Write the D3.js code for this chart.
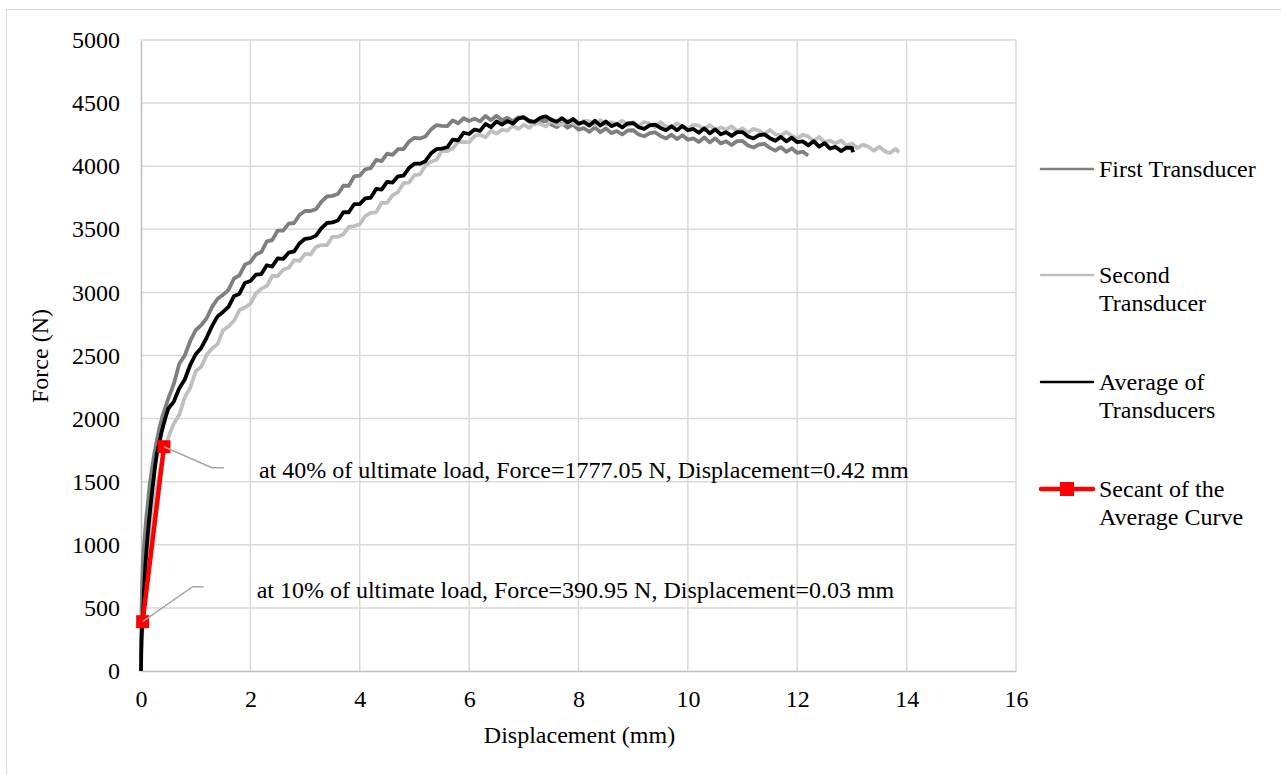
<!DOCTYPE html>
<html>
<head>
<meta charset="utf-8">
<script src="https://cdn.jsdelivr.net/npm/d3@7"></script>
<style>
  body { margin: 0; background: #fff; }
  svg { display: block; font-family: "Liberation Serif", "Times New Roman", serif; }
</style>
</head>
<body>
<div id="chart"></div>
<script>
// displacement (mm), force (N) pairs
const firstTransducer = [
  [0,0],[0.003,200],[0.008,420],[0.015,600],[0.025,760],[0.04,900],[0.06,1020],[0.08,1130],[0.1,1230],
  [0.13,1350],[0.16,1480],[0.2,1600],[0.25,1740],[0.3,1850],[0.35,1950],[0.4,2030],
  [0.5,2160],[0.6,2275],[0.7,2435],[0.8,2500],[0.9,2615],[1.0,2700],[1.1,2740],[1.2,2795],[1.3,2885],
  [1.4,2950],[1.5,2980],[1.6,3020],[1.7,3110],[1.8,3135],[1.9,3220],[2.0,3240],[2.1,3300],[2.2,3320],
  [2.3,3405],[2.4,3415],[2.5,3490],[2.6,3490],[2.7,3545],[2.8,3550],[2.9,3615],[3.0,3645],[3.1,3645],
  [3.2,3660],[3.3,3720],[3.4,3760],[3.5,3765],[3.6,3780],[3.7,3845],[3.8,3845],[3.9,3920],[4.0,3925],
  [4.1,3975],[4.2,3985],[4.3,4050],[4.4,4040],[4.5,4100],[4.6,4090],[4.7,4135],[4.8,4135],[4.9,4195],
  [5.0,4225],[5.1,4220],[5.2,4235],[5.3,4290],[5.4,4325],[5.5,4320],[5.6,4318],[5.7,4363],[5.8,4340],
  [5.9,4380],[6.0,4358],[6.1,4377],[6.2,4355],[6.3,4398],[6.4,4365],[6.5,4400],[6.6,4365],[6.7,4383],
  [6.8,4355],[6.9,4387],[7.0,4388],[7.1,4352],[7.2,4335],[7.3,4358],[7.4,4360],[7.5,4330],[7.6,4310],
  [7.7,4340],[7.8,4305],[7.9,4330],[8.0,4290],[8.1,4301],[8.2,4272],[8.3,4308],[8.4,4269],[8.5,4300],
  [8.6,4262],[8.7,4279],[8.8,4251],[8.9,4283],[9.0,4285],[9.1,4251],[9.2,4237],[9.3,4263],[9.4,4269],
  [9.5,4240],[9.6,4220],[9.7,4250],[9.8,4215],[9.9,4245],[10.0,4210],[10.1,4221],[10.2,4192],[10.3,4228],
  [10.4,4189],[10.5,4220],[10.6,4181],[10.7,4197],[10.8,4168],[10.9,4199],[11.0,4200],[11.1,4164],
  [11.2,4148],[11.3,4172],[11.4,4176],[11.5,4145],[11.6,4123],[11.7,4151],[11.8,4114],[11.9,4142],
  [12.0,4105],[12.1,4115],[12.2,4085]
];

const secondTransducer = [
  [0,0],[0.005,150],[0.015,320],[0.03,480],[0.05,620],[0.08,780],[0.12,950],[0.16,1100],[0.2,1230],
  [0.25,1370],[0.3,1490],[0.35,1600],[0.4,1700],[0.45,1780],[0.5,1850],[0.55,1910],[0.6,1960],
  [0.7,2030],[0.8,2170],[0.9,2245],[1.0,2375],[1.1,2410],[1.2,2505],[1.3,2555],[1.4,2590],[1.5,2700],
  [1.6,2730],[1.7,2775],[1.8,2860],[1.9,2880],[2.0,2910],[2.1,2990],[2.2,3030],[2.3,3050],[2.4,3130],
  [2.5,3130],[2.6,3180],[2.7,3195],[2.8,3255],[2.9,3250],[3.0,3305],[3.1,3300],[3.2,3360],[3.3,3375],
  [3.4,3375],[3.5,3440],[3.6,3440],[3.7,3460],[3.8,3520],[3.9,3525],[4.0,3540],[4.1,3605],[4.2,3630],
  [4.3,3635],[4.4,3710],[4.5,3710],[4.6,3770],[4.7,3795],[4.8,3865],[4.9,3870],[5.0,3930],[5.1,3935],
  [5.2,4005],[5.3,4035],[5.4,4050],[5.5,4120],[5.6,4120],[5.7,4140],[5.8,4195],[5.9,4190],[6.0,4190],
  [6.1,4240],[6.2,4250],[6.3,4230],[6.4,4282],[6.5,4258],[6.6,4288],[6.7,4282],[6.8,4322],[6.9,4295],
  [7.0,4328],[7.1,4303],[7.2,4343],[7.3,4337],[7.4,4316],[7.5,4359],[7.6,4332],[7.7,4329],[7.8,4365],
  [7.9,4341],[8.0,4326],[8.1,4361],[8.2,4355],[8.3,4325],[8.4,4364],[8.5,4329],[8.6,4348],[8.7,4332],
  [8.8,4361],[8.9,4325],[9.0,4350],[9.1,4318],[9.2,4350],[9.3,4338],[9.4,4310],[9.5,4348],[9.6,4315],
  [9.7,4307],[9.8,4340],[9.9,4313],[10.0,4295],[10.1,4328],[10.2,4321],[10.3,4289],[10.4,4327],
  [10.5,4290],[10.6,4307],[10.7,4289],[10.8,4316],[10.9,4278],[11.0,4300],[11.1,4266],[11.2,4296],
  [11.3,4282],[11.4,4252],[11.5,4288],[11.6,4252],[11.7,4242],[11.8,4271],[11.9,4241],[12.0,4220],
  [12.1,4248],[12.2,4236],[12.3,4199],[12.4,4232],[12.5,4190],[12.6,4203],[12.7,4181],[12.8,4204],
  [12.9,4162],[13.0,4180],[13.1,4143],[13.2,4171],[13.3,4154],[13.4,4122],[13.5,4155],[13.6,4118],
  [13.7,4106],[13.8,4137],[13.86,4110]
];

const averageTransducers = [
  [0,0],[0.004,140],[0.01,250],[0.02,340],[0.03,400],[0.04,500],[0.05,610],[0.065,720],[0.08,840],
  [0.1,950],[0.12,1060],[0.14,1160],[0.17,1290],[0.2,1410],[0.23,1520],[0.26,1630],[0.29,1720],
  [0.33,1800],[0.37,1880],[0.41,1950],[0.45,2010],
  [0.5,2080],[0.6,2135],[0.7,2240],[0.8,2310],[0.9,2425],[1.0,2510],[1.1,2560],[1.2,2640],[1.3,2735],
  [1.4,2810],[1.5,2845],[1.6,2885],[1.7,2970],[1.8,2990],[1.9,3075],[2.0,3090],[2.1,3140],[2.2,3145],
  [2.3,3215],[2.4,3205],[2.5,3270],[2.6,3265],[2.7,3315],[2.8,3325],[2.9,3390],[3.0,3425],[3.1,3430],
  [3.2,3450],[3.3,3510],[3.4,3550],[3.5,3555],[3.6,3570],[3.7,3635],[3.8,3635],[3.9,3700],[4.0,3700],
  [4.1,3745],[4.2,3750],[4.3,3820],[4.4,3815],[4.5,3875],[4.6,3870],[4.7,3920],[4.8,3925],[4.9,3985],
  [5.0,4020],[5.1,4020],[5.2,4040],[5.3,4100],[5.4,4135],[5.5,4140],[5.6,4150],[5.7,4210],[5.8,4205],
  [5.9,4265],[6.0,4255],[6.1,4290],[6.2,4280],[6.3,4335],[6.4,4310],[6.5,4355],[6.6,4330],[6.7,4357],
  [6.8,4338],[6.9,4378],[7.0,4387],[7.1,4360],[7.2,4352],[7.3,4384],[7.4,4395],[7.5,4369],[7.6,4352],
  [7.7,4381],[7.8,4345],[7.9,4374],[8.0,4338],[8.1,4350],[8.2,4322],[8.3,4360],[8.4,4322],[8.5,4355],
  [8.6,4317],[8.7,4335],[8.8,4307],[8.9,4340],[9.0,4342],[9.1,4309],[9.2,4296],[9.3,4323],[9.4,4330],
  [9.5,4303],[9.6,4285],[9.7,4317],[9.8,4285],[9.9,4318],[10.0,4285],[10.1,4295],[10.2,4265],[10.3,4300],
  [10.4,4260],[10.5,4292],[10.6,4253],[10.7,4269],[10.8,4240],[10.9,4270],[11.0,4270],[11.1,4235],
  [11.2,4220],[11.3,4246],[11.4,4252],[11.5,4222],[11.6,4202],[11.7,4232],[11.8,4197],[11.9,4226],
  [12.0,4190],[12.1,4197],[12.2,4165],[12.3,4198],[12.4,4155],[12.5,4182],[12.6,4140],[12.7,4153],
  [12.8,4120],[12.9,4147],[13.0,4145],[13.02,4110]
];

const secantPoints = [[0.03, 390.95], [0.42, 1777.05]];

const xTicks = [0, 2, 4, 6, 8, 10, 12, 14, 16];
const yTicks = [0, 500, 1000, 1500, 2000, 2500, 3000, 3500, 4000, 4500, 5000];

const seriesNames = [["First Transducer"], ["Second", "Transducer"], ["Average of", "Transducers"], ["Secant of the", "Average Curve"]];
const seriesColors = ["#7f7f7f", "#bfbfbf", "#000000", "#ff0000"];

const annotationLabels = [
  "at 40% of ultimate load, Force=1777.05 N, Displacement=0.42 mm",
  "at 10% of ultimate load, Force=390.95 N, Displacement=0.03 mm"
];
const annotationPoints = [secantPoints[1], secantPoints[0]];

const widthValue = 1281;
const heightValue = 775;
const margin = { top: 40, left: 141, bottom: 104, right: 265 };
const width = widthValue - margin.left - margin.right;
const height = heightValue - margin.top - margin.bottom;
const fontSize = "24px";

const svg = d3.select("#chart").append("svg")
  .attr("width", widthValue)
  .attr("height", heightValue);

// chart area border (only left and top fall inside the window)
svg.append("rect")
  .attr("x", 6.5).attr("y", 9.5)
  .attr("width", 1300).attr("height", 800)
  .attr("fill", "none").attr("stroke", "#d9d9d9").attr("stroke-width", 1);

const g = svg.append("g").attr("transform", `translate(${margin.left},${margin.top})`);

const x = d3.scaleLinear().domain([0, 16]).range([0, width]);
const y = d3.scaleLinear().domain([0, 5000]).range([height, 0]);

// gridlines
g.append("g").selectAll("line").data(yTicks.slice(1))
  .enter().append("line")
  .attr("x1", 0).attr("x2", width)
  .attr("y1", (d) => y(d)).attr("y2", (d) => y(d))
  .attr("stroke", "#d9d9d9").attr("stroke-width", 1.5);

g.append("g").selectAll("line").data(xTicks.slice(1))
  .enter().append("line")
  .attr("x1", (d) => x(d)).attr("x2", (d) => x(d))
  .attr("y1", 0).attr("y2", height)
  .attr("stroke", "#d9d9d9").attr("stroke-width", 1.5);

// axes
const xAxis = g.append("g")
  .attr("transform", `translate(0,${height})`)
  .call(d3.axisBottom(x).tickValues(xTicks).tickSize(0).tickPadding(19).tickFormat(d3.format("d")));
const yAxis = g.append("g")
  .call(d3.axisLeft(y).tickValues(yTicks).tickSize(0).tickPadding(21).tickFormat(d3.format("d")));

[xAxis, yAxis].forEach((a) => {
  a.select(".domain").attr("stroke", "#bfbfbf").attr("stroke-width", 1.5);
  a.selectAll("text").attr("font-family", "Liberation Serif").style("font-size", fontSize).attr("fill", "#000");
});

// series
const line = d3.line().x((d) => x(d[0])).y((d) => y(d[1]));
const series = [firstTransducer, secondTransducer, averageTransducers];

series.forEach((s, i) => {
  g.append("path")
    .datum(s)
    .attr("d", line)
    .attr("fill", "none")
    .attr("stroke", seriesColors[i])
    .attr("stroke-width", 3.8)
    .attr("stroke-linejoin", "round");
});

// secant
g.append("path")
  .datum(secantPoints)
  .attr("d", line)
  .attr("fill", "none")
  .attr("stroke", seriesColors[3])
  .attr("stroke-width", 4.5);

g.selectAll(".marker").data(secantPoints)
  .enter().append("rect")
  .attr("class", "marker")
  .attr("x", (d) => x(d[0]) - 6.5)
  .attr("y", (d) => y(d[1]) - 6.5)
  .attr("width", 13).attr("height", 13)
  .attr("fill", seriesColors[3]);

// annotation leaders and labels
const leaderOffsets = [
  { ex: 48, ey: 21, hx: 60, tx: 95, ty: 23 },
  { ex: 50, ey: -35, hx: 61, tx: 114, ty: -32 }
];

annotationPoints.forEach((p, i) => {
  const px = x(p[0]);
  const py = y(p[1]);
  const o = leaderOffsets[i];
  g.append("polyline")
    .attr("points", `${px},${py} ${px + o.ex},${py + o.ey} ${px + o.hx},${py + o.ey}`)
    .attr("fill", "none")
    .attr("stroke", "#a6a6a6")
    .attr("stroke-width", 1.5);
  g.append("text")
    .attr("x", px + o.tx)
    .attr("y", py + o.ty)
    .attr("dy", "0.35em")
    .style("font-size", fontSize)
    .text(annotationLabels[i]);
});

// axis titles
svg.append("text")
  .attr("x", margin.left + width / 2 + 1)
  .attr("y", 735)
  .attr("dy", "0.35em")
  .attr("text-anchor", "middle")
  .style("font-size", fontSize)
  .text("Displacement (mm)");

svg.append("text")
  .attr("transform", "translate(40,356) rotate(-90)")
  .attr("dy", "0.35em")
  .attr("text-anchor", "middle")
  .style("font-size", fontSize)
  .text("Force (N)");

// legend
const legendY = [169, 275, 382, 489];
const legend = svg.append("g");

seriesNames.forEach((name, i) => {
  const row = legend.append("g").attr("transform", `translate(1041,${legendY[i]})`);
  row.append("line")
    .attr("x1", 0).attr("x2", 52)
    .attr("y1", 0).attr("y2", 0)
    .attr("stroke", seriesColors[i])
    .attr("stroke-width", i === 3 ? 4.5 : 2.5)
    .attr("stroke-linecap", "round");
  if (i === 3) {
    row.append("rect")
      .attr("x", 26 - 7).attr("y", -7)
      .attr("width", 14).attr("height", 14)
      .attr("fill", seriesColors[i]);
  }
  name.forEach((t, j) => {
    row.append("text")
      .attr("x", 58)
      .attr("y", j * 28)
      .attr("dy", "0.35em")
      .style("font-size", fontSize)
      .text(t);
  });
});
</script>
</body>
</html>
